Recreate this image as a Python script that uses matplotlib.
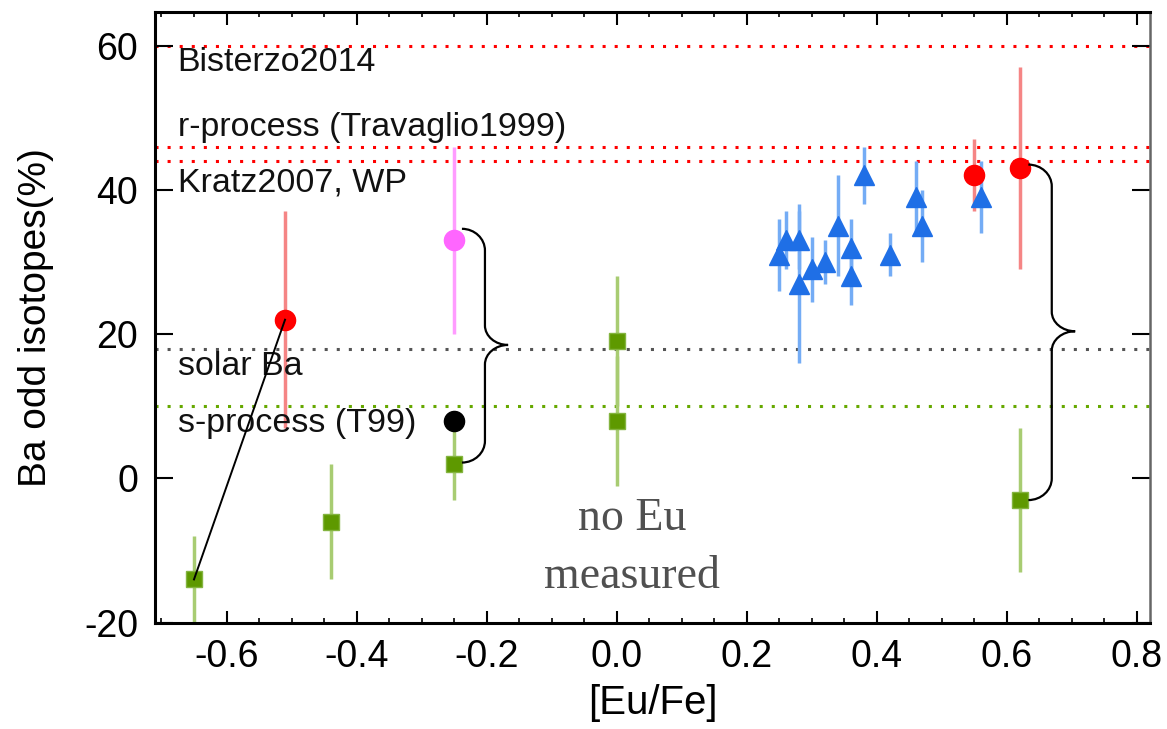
import numpy as np
import matplotlib.pyplot as plt
from matplotlib.path import Path
from matplotlib.patches import PathPatch
from matplotlib.ticker import MultipleLocator

plt.rcParams['font.family'] = ['Liberation Sans', 'DejaVu Sans']
plt.rcParams['lines.scale_dashes'] = False

# horizontal reference lines
ref_y = [60, 46, 44, 18, 10]
ref_colors = ['#ff0000', '#ff0000', '#ff0000', '#555555', '#66a800']

# labels next to the lines
label_text = ['Bisterzo2014', 'r-process (Travaglio1999)', 'Kratz2007, WP',
              'solar Ba', 's-process (T99)']
label_y = [57.7, 48.6, 41.0, 15.5, 7.6]

# green squares
green_x = [-0.65, -0.44, -0.25, 0.0, 0.0, 0.62]
green_y = [-14, -6, 2, 19, 8, -3]
green_err = [6, 8, 5, 9, 9, 10]

# red circles
red_x = [-0.51, 0.55, 0.62]
red_y = [22, 42, 43]
red_err = [15, 5, 14]

# pink and black circles
pink_x, pink_y, pink_err = [-0.25], [33], [13]
black_x, black_y = [-0.25], [8]

# blue triangles
blue_x = [0.25, 0.26, 0.28, 0.28, 0.30, 0.32, 0.34, 0.36, 0.36, 0.38, 0.42, 0.46, 0.47, 0.56]
blue_y = [31, 33, 33, 27, 29, 30, 35, 32, 28, 42, 31, 39, 35, 39]
blue_err = [5, 4, 4, 11, 4.5, 3, 7, 4, 4, 4, 3, 5, 5, 5]

# connecting line (same star, two measurements)
link_x = [-0.65, -0.51]
link_y = [-14, 22]

# braces: x_start, y_top, y_bottom, x_spine, x_tip, y_tip
braces = [(-0.238, 34.6, 2.2, -0.2026, -0.167, 18.5),
          (0.633, 43.5, -3.0, 0.669, 0.705, 20.4)]


def brace_path(x0, yt, yb, xs, xt, ym, r=3.0, r2=2.7):
    verts = [(x0, yt),
             (x0 + 0.55 * (xs - x0), yt), (xs, yt - 0.45 * r), (xs, yt - r),
             (xs, ym + r2),
             (xs, ym + 0.45 * r2), (xs + 0.45 * (xt - xs), ym), (xt, ym),
             (xs + 0.45 * (xt - xs), ym), (xs, ym - 0.45 * r2), (xs, ym - r2),
             (xs, yb + r),
             (xs, yb + 0.45 * r), (x0 + 0.55 * (xs - x0), yb), (x0, yb)]
    codes = [Path.MOVETO, Path.CURVE4, Path.CURVE4, Path.CURVE4, Path.LINETO,
             Path.CURVE4, Path.CURVE4, Path.CURVE4,
             Path.CURVE4, Path.CURVE4, Path.CURVE4, Path.LINETO,
             Path.CURVE4, Path.CURVE4, Path.CURVE4]
    return Path(verts, codes)


fig = plt.figure(figsize=(11.67, 7.29), dpi=100)
ax = fig.add_axes([0.1328, 0.1458, 0.8526, 0.8382])

for y, c in zip(ref_y, ref_colors):
    ax.axhline(y, color=c, lw=2.2, linestyle=(0, (2.2, 6.5)), zorder=1)

for t, y in zip(label_text, label_y):
    ax.text(-0.675, y, t, fontsize=24.5, va='center', ha='left', color='#111111')

serif = ['Liberation Serif', 'DejaVu Serif']
ax.text(0.024, -7.2, 'no Eu', family=serif, fontsize=33, color='#505050',
        ha='center', va='baseline')
ax.text(0.024, -15.2, 'measured', family=serif, fontsize=33, color='#505050',
        ha='center', va='baseline')

# error bars
ax.errorbar(green_x, green_y, yerr=green_err, fmt='none', ecolor='#a8cc72',
            elinewidth=2.5, capsize=0, zorder=2)
ax.errorbar(red_x, red_y, yerr=red_err, fmt='none', ecolor='#f58585',
            elinewidth=2.5, capsize=0, zorder=2)
ax.errorbar(pink_x, pink_y, yerr=pink_err, fmt='none', ecolor='#ff9cff',
            elinewidth=2.5, capsize=0, zorder=2)
ax.errorbar(blue_x, blue_y, yerr=blue_err, fmt='none', ecolor='#74acf5',
            elinewidth=2.5, capsize=0, zorder=2)

# markers
ax.plot(green_x, green_y, 's', ms=12, mfc='#5e9900', mec='#84b440', mew=1, zorder=4)
ax.plot(red_x, red_y, 'o', ms=14.5, mfc='#ff0000', mec='#ff0000', zorder=4)
ax.plot(pink_x, pink_y, 'o', ms=14.5, mfc='#ff66ff', mec='#ff66ff', zorder=4)
ax.plot(black_x, black_y, 'o', ms=14.5, mfc='black', mec='black', zorder=4)
ax.plot(blue_x, blue_y, '^', ms=15, mfc='#1f6fe6', mec='#1f6fe6', zorder=3)

ax.plot(link_x, link_y, color='black', lw=1.4, zorder=5)

for b in braces:
    ax.add_patch(PathPatch(brace_path(*b), fc='none', ec='black', lw=1.6, zorder=5))

ax.set_xlim(-0.71, 0.82)
ax.set_ylim(-20, 64.7)
ax.xaxis.set_minor_locator(MultipleLocator(0.05))
ax.set_xticks([-0.6, -0.4, -0.2, 0.0, 0.2, 0.4, 0.6, 0.8])
ax.set_xticklabels(['-0.6', '-0.4', '-0.2', '0.0', '0.2', '0.4', '0.6', '0.8'])
ax.set_yticks([-20, 0, 20, 40, 60])
ax.set_yticklabels(['-20', '0', '20', '40', '60'])

ax.tick_params(axis='x', which='major', direction='in', length=9, width=1.5,
               top=True, labelsize=27, pad=12)
ax.tick_params(axis='x', which='minor', direction='in', length=3.5, width=1.2, top=True)
ax.tick_params(axis='y', which='major', direction='in', length=13, width=1.5,
               right=True, labelsize=27, pad=12)

for side in ['left', 'bottom', 'top']:
    ax.spines[side].set_linewidth(2.2)
ax.spines['right'].set_linewidth(1.8)
ax.spines['right'].set_color('#666666')

ax.set_xlabel('[Eu/Fe]', fontsize=29, labelpad=6)
ax.set_ylabel('Ba odd isotopes(%)', fontsize=28, labelpad=22)

fig.savefig('out.png', dpi=100)
